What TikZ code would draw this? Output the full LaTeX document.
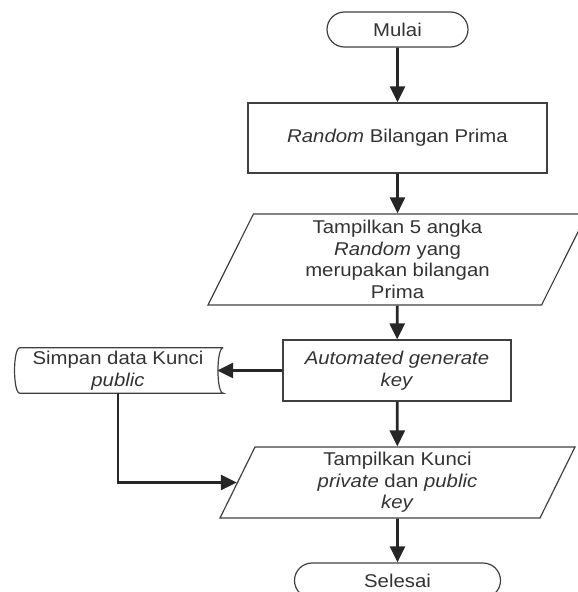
\documentclass[tikz,border=0pt]{standalone}
\usepackage{fontspec}
\setmainfont{Liberation Sans}[FakeStretch=1.1]
\usepackage{tikz}
\usetikzlibrary{shapes.geometric, shapes.misc, arrows.meta}

\begin{document}
\begin{tikzpicture}[x=1pt, y=-1pt,
    every node/.style={font=\fontsize{18.5}{21.7}\selectfont, text=black!80, align=center},
    outline/.style={draw=black!75, line width=1.2pt},
    terminal/.style={outline, rounded rectangle, minimum height=35pt, inner sep=0pt},
    process/.style={outline, rectangle, inner sep=0pt},
    io/.style={outline, trapezium, trapezium left angle=60, trapezium right angle=120,
      trapezium stretches body, inner sep=0pt},
    flow/.style={line width=2.8pt, draw=black!85, -{Triangle[length=16pt, width=15pt]}}]
  \useasboundingbox (0,0) rectangle (578,592);
  \node [terminal, minimum width=141pt] (mulai) at (397.5,29.5) {Mulai};
  \node [process, minimum width=299pt, minimum height=70pt] (random) at (397.5,138) {\textit{Random} Bilangan Prima};
  \node [io, minimum width=379pt, minimum height=91pt] (tampil) at (397.5,259.5)
    {Tampilkan 5 angka\\\textit{Random} yang\\merupakan bilangan\\Prima};
  \node [process, minimum width=228pt, minimum height=61pt] (auto) at (397,370.5)
    {\textit{Automated generate}\\\textit{key}};
  \node [minimum width=210pt, minimum height=45pt, inner sep=0pt] (simpan) at (118,370.5)
    {Simpan data Kunci\\\textit{public}};
  \draw [outline] (simpan.north east) -- ([xshift=7pt]simpan.north west)
    .. controls (simpan.north west) and (simpan.south west) .. ([xshift=7pt]simpan.south west)
    -- (simpan.south east)
    .. controls ([xshift=-7pt]simpan.south east) and ([xshift=-7pt]simpan.north east) .. (simpan.north east);
  \node [io, minimum width=355pt, minimum height=71pt] (kunci) at (397.5,482.5)
    {Tampilkan Kunci\\\textit{private} dan \textit{public}\\\textit{key}};
  \node [terminal, minimum width=206pt] (selesai) at (397.5,580.5) {Selesai};
  \draw [flow] (mulai) -- (random);
  \draw [flow] (random) -- (tampil);
  \draw [flow] (tampil) -- (auto);
  \draw [flow] (auto) -- (kunci);
  \draw [flow] (kunci) -- (selesai);
  \draw [flow] (auto.west) -- ([xshift=-6pt]simpan.east);
  \draw [flow] (simpan.south) |- (kunci.west);
\end{tikzpicture}
\end{document}
